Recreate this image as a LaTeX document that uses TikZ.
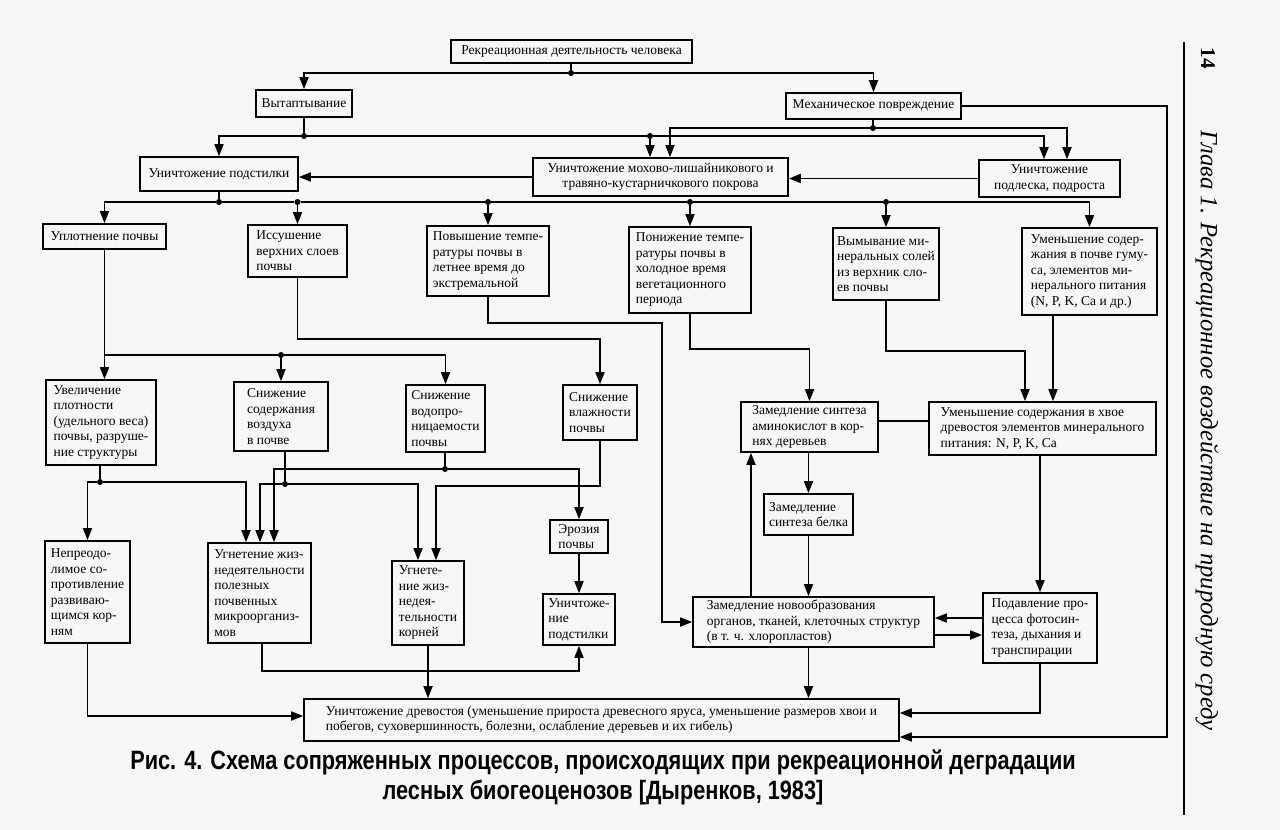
\documentclass[tikz,border=0pt]{standalone}
\usepackage{fontspec}
\setmainfont{Liberation Serif}
\newfontfamily\capfont[FakeStretch=0.82]{Liberation Sans}
\usetikzlibrary{arrows.meta}
\begin{document}
\begin{tikzpicture}[x=1pt,y=-1pt,
  box/.style={draw, line width=1.6pt, inner sep=2pt, align=left, font=\fontsize{13.5}{15.5}\selectfont},
  ln/.style={line width=1.7pt},
  arr/.style={line width=1.7pt, -{Triangle[length=12pt,width=9pt]}},
  dotn/.style={circle, fill, inner sep=0pt, minimum size=6pt}]
\fill[black!3] (0,0) rectangle (1280,830);
\path[use as bounding box] (0,0) rectangle (1280,830);

% ---------- boxes ----------
\node[box, minimum width=241, minimum height=23] (A) at (571.5,51.5) {Рекреационная деятельность человека};
\node[box, minimum width=96, minimum height=27] (B) at (304,103.5) {Вытаптывание};
\node[box, minimum width=175, minimum height=26] (C) at (873.5,106) {Механическое повреждение};
\node[box, minimum width=158, minimum height=34] (F) at (219,174) {Уничтожение подстилки};
\node[box, align=center, minimum width=255, minimum height=38] (D) at (660.5,177) {Уничтожение мохово-лишайникового и\\травяно-кустарничкового покрова};
\node[box, align=center, minimum width=141, minimum height=37] (E) at (1049.5,178.5) {Уничтожение\\подлеска, подроста};
\node[box, minimum width=123, minimum height=25] (G) at (104.5,236.5) {Уплотнение почвы};
\node[box, minimum width=99, minimum height=52] (H) at (297.5,251) {Иссушение\\верхних слоев\\почвы};
\node[box, minimum width=122, minimum height=70] (I) at (488,261) {Повышение темпе-\\ратуры почвы в\\летнее время до\\экстремальной};
\node[box, minimum width=122, minimum height=86] (J) at (690,270) {Понижение темпе-\\ратуры почвы в\\холодное время\\вегетационного\\периода};
\node[box, minimum width=106, minimum height=72] (K) at (886,264) {Вымывание ми-\\неральных солей\\из верхник сло-\\ев почвы};
\node[box, minimum width=135, minimum height=87] (L) at (1089.5,271.5) {Уменьшение содер-\\жания в почве гуму-\\са, элементов ми-\\нерального питания\\(N, P, K, Ca и др.)};
\node[box, minimum width=110, minimum height=85] (M) at (101,422.5) {Увеличение\\плотности\\(удельного веса)\\почвы, разруше-\\ние структуры};
\node[box, minimum width=94, minimum height=69] (N) at (281,416.5) {Снижение\\содержания\\воздуха\\в почве};
\node[box, minimum width=79, minimum height=67] (O) at (445.5,418.5) {Снижение\\водопро-\\ницаемости\\почвы};
\node[box, minimum width=74, minimum height=55] (P) at (600,412.5) {Снижение\\влажности\\почвы};
\node[box, minimum width=137, minimum height=50] (Q) at (809.5,427) {Замедление синтеза\\аминокислот в кор-\\нях деревьев};
\node[box, minimum width=227, minimum height=53] (R) at (1042.5,428.5) {Уменьшение содержания в хвое\\древостоя элементов минерального\\питания: N, P, K, Ca};
\node[box, minimum width=89, minimum height=41] (S) at (808.5,514.5) {Замедление\\синтеза белка};
\node[box, minimum width=58, minimum height=33] (Z) at (579,536.5) {Эрозия\\почвы};
\node[box, minimum width=85, minimum height=102] (W) at (87.5,592) {Непреодо-\\лимое со-\\противление\\развиваю-\\щимся кор-\\ням};
\node[box, minimum width=103, minimum height=100] (X) at (259.5,593) {Угнетение жиз-\\недеятельности\\полезных\\почвенных\\микроорганиз-\\мов};
\node[box, minimum width=72, minimum height=84] (Y) at (428,603) {Угнете-\\ние жиз-\\недея-\\тельности\\корней};
\node[box, minimum width=72, minimum height=51] (AA) at (579,619.5) {Уничтоже-\\ние\\подстилки};
\node[box, minimum width=241, minimum height=50] (T) at (813.5,622) {Замедление новообразования\\органов, тканей, клеточных структур\\(в т. ч. хлоропластов)};
\node[box, minimum width=114, minimum height=70] (U) at (1040,628) {Подавление про-\\цесса фотосин-\\теза, дыхания и\\транспирации};
\node[box, minimum width=595, minimum height=42] (V) at (601.5,720) {Уничтожение древостоя (уменьшение прироста древесного яруса, уменьшение размеров хвои и\\побегов, суховершинность, болезни, ослабление деревьев и их гибель)};

% ---------- junction dots ----------
\node[dotn] (j1) at (571,73) {};
\node[dotn] (j2) at (873,128) {};
\node[dotn] (j3) at (304,136) {};
\node[dotn] (j4) at (650,136) {};
\node[dotn] (j5) at (219,202) {};
\node[dotn] (jH) at (297.5,202) {};
\node[dotn] (jI) at (488,202) {};
\node[dotn] (jJ) at (690,202) {};
\node[dotn] (jK) at (886,202) {};
\node[dotn] (jN) at (281,355) {};
\node[dotn] (jM) at (100,482) {};
\node[dotn] (jNb) at (285,484) {};
\node[dotn] (jO) at (445,469) {};

% ---------- helper coordinates ----------
\coordinate (xa) at (670,0);
\coordinate (xb) at (1067,0);
\coordinate (xc) at (1044,0);
\coordinate (xI) at (662,0);
\coordinate (xR1) at (1025,0);
\coordinate (xR2) at (1053,0);
\coordinate (x246) at (246,0);
\coordinate (x260) at (260,0);
\coordinate (x274) at (274,0);
\coordinate (x418) at (418,0);
\coordinate (x436) at (436,0);
\coordinate (x751) at (751,0);
\coordinate (x262) at (262,0);
\coordinate (xRt) at (1167,0);
\coordinate (yH) at (0,339);
\coordinate (yI) at (0,323);
\coordinate (yJ) at (0,349);
\coordinate (yK) at (0,351);
\coordinate (yP) at (0,486);
\coordinate (yQR) at (0,421);
\coordinate (y618) at (0,618);
\coordinate (y635) at (0,635);
\coordinate (y622) at (0,622);
\coordinate (y713) at (0,713);
\coordinate (y716) at (0,716);
\coordinate (y737) at (0,737);
\coordinate (y671) at (0,671);

% ---------- connectors ----------
\draw[ln] (A.south -| j1) -- (j1);
\draw[arr] (j1) -| (B.north);
\draw[arr] (j1) -| (C.north);

\draw[ln] (C.south -| j2) -- (j2);
\draw[arr] (j2) -| (D.north -| xa);
\draw[arr] (j2) -| (E.north -| xb);

\draw[ln] (B.south) -- (j3);
\draw[arr] (j3) -| (F.north);
\draw[ln] (j3) -- (j4);
\draw[arr] (j4) -- (D.north -| j4);
\draw[arr] (j4) -| (E.north -| xc);

\draw[arr] (E.west) -- (E.west -| D.east);
\draw[arr] (D.west) -- (D.west -| F.east);

\draw[ln] (F.south) -- (j5);
\draw[arr] (j5) -| (G.north);
\draw[ln] (j5) -- (jH) -- (jI) -- (jJ) -- (jK);
\draw[arr] (jK) -| (L.north);
\draw[arr] (jH) -- (H.north);
\draw[arr] (jI) -- (I.north);
\draw[arr] (jJ) -- (J.north);
\draw[arr] (jK) -- (K.north);

\draw[arr] (G.south) -- (G.south |- M.north);
\draw[ln] (G.south |- jN) -- (jN);
\draw[arr] (jN) -- (N.north);
\draw[arr] (jN) -| (O.north);

\draw[arr] (H.south) -- (H.south |- yH) -| (P.north);
\draw[arr] (I.south) -- (I.south |- yI) -| (xI |- y622) -- (T.west |- y622);
\draw[arr] (J.south) -- (J.south |- yJ) -| (Q.north);
\draw[arr] (K.south) -- (K.south |- yK) -| (xR1 |- R.north);
\draw[arr] (xR2 |- L.south) -- (xR2 |- R.north);

\draw[ln] (M.south -| jM) -- (jM);
\draw[arr] (jM) -| (W.north);
\draw[arr] (jM) -| (x246 |- X.north);
\draw[ln] (N.south -| jNb) -- (jNb);
\draw[arr] (jNb) -| (x260 |- X.north);
\draw[arr] (jNb) -| (x418 |- Y.north);
\draw[ln] (O.south -| jO) -- (jO);
\draw[arr] (jO) -| (x274 |- X.north);
\draw[arr] (jO) -| (Z.north);
\draw[arr] (P.south) -- (P.south |- yP) -| (x436 |- Y.north);

\draw[ln] (Q.east |- yQR) -- (R.west |- yQR);
\draw[arr] (Q.south -| S.north) -- (S.north);
\draw[arr] (S.south) -- (S.south |- T.north);
\draw[arr] (x751 |- T.north) -- (x751 |- Q.south);
\draw[arr] (R.south -| U.north) -- (U.north);
\draw[arr] (U.west |- y618) -- (T.east |- y618);
\draw[arr] (T.east |- y635) -- (U.west |- y635);
\draw[arr] (T.south -| S.south) -- (V.north -| S.south);
\draw[arr] (U.south) |- (V.east |- y713);
\draw[arr] (C.east) -- (C.east -| xRt) -- (xRt |- y737) -- (V.east |- y737);
\draw[arr] (W.south) |- (V.west |- y716);
\draw[arr] (x262 |- X.south) -- (x262 |- y671) -| (AA.south);
\draw[arr] (Y.south) -- (Y.south |- V.north);
\draw[arr] (Z.south) -- (AA.north);

% ---------- page decoration ----------
\draw[line width=1.3pt] (1184,42) -- (1184,815);
\node[rotate=-90, font=\bfseries\fontsize{21}{22}\selectfont] (pg) at (1208,58) {14};
\node[rotate=-90, anchor=west, font=\itshape\fontsize{24.7}{27}\selectfont] (chap) at (1207,127) {Глава 1. Рекреационное воздействие на природную среду};
\node[font=\capfont\bfseries\fontsize{26.5}{30}\selectfont, align=center] (cap) at (603,777) {Рис. 4. Схема сопряженных процессов, происходящих при рекреационной деградации\\лесных биогеоценозов [Дыренков, 1983]};
\end{tikzpicture}
\end{document}
